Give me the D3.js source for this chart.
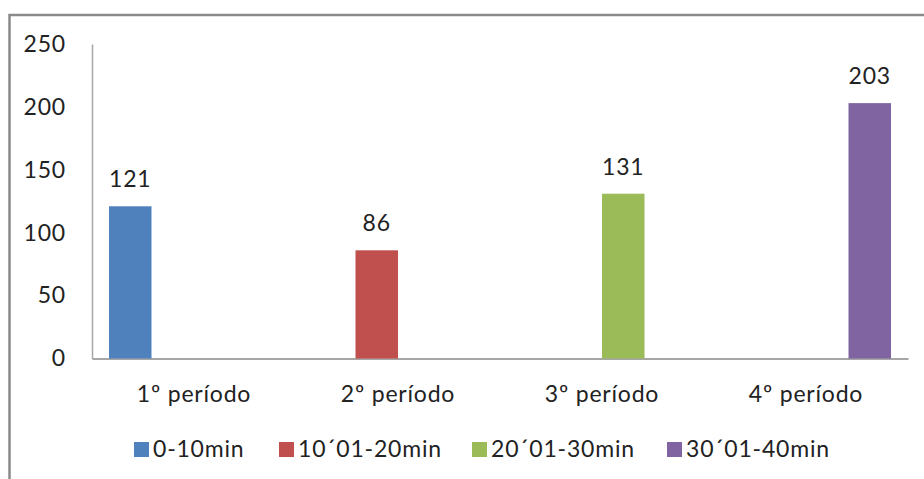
<!DOCTYPE html>
<html>
<head>
<meta charset="utf-8">
<script src="https://cdn.jsdelivr.net/npm/d3@7"></script>
<style>
  html, body { margin: 0; padding: 0; background: #fff; }
  svg { display: block; }
  text { font-family: Lato, "Open Sans", sans-serif; fill: #222; letter-spacing: 0.8px; }
</style>
</head>
<body>
<svg id="chart" width="924" height="479"></svg>
<script>
// Periods on the x axis
const categories = ["1º período", "2º período", "3º período", "4º período"];
// One series per time slice; each only has a value in its own period
const seriesNames = ["0-10min", "10´01-20min", "20´01-30min", "30´01-40min"];
const seriesValues = [
  [121, null, null, null],
  [null, 86, null, null],
  [null, null, 131, null],
  [null, null, null, 203]
];
const seriesColors = ["#4F81BD", "#C0504D", "#9BBB59", "#8064A2"];
const yTicks = [0, 50, 100, 150, 200, 250];

const svg = d3.select("#chart");
const W = 924, H = 479;
const fontSize = 23;

// Chart area frame (runs off the right and bottom edges)
svg.append("rect")
  .attr("x", 9.5).attr("y", 15)
  .attr("width", W + 20).attr("height", H + 20)
  .attr("fill", "#fff")
  .attr("stroke", "#8a8a8a")
  .attr("stroke-width", 2.5);

const plot = { left: 92, right: 908, top: 44, bottom: 358.5 };

const x = d3.scaleBand()
  .domain(categories)
  .range([plot.left, plot.right])
  .padding(0);

const xs = d3.scaleBand()
  .domain(d3.range(seriesNames.length))
  .range([0, x.bandwidth()])
  .paddingInner(0)
  .paddingOuter(0.4);

const y = d3.scaleLinear()
  .domain([0, 250])
  .range([plot.bottom, plot.top]);

// Y axis: line plus tick labels, no tick marks
const yAxis = d3.axisLeft(y).tickValues(yTicks).tickSize(0).tickPadding(26);
const gy = svg.append("g")
  .attr("transform", `translate(${plot.left},0)`)
  .call(yAxis);
gy.select(".domain").attr("stroke", "#a6a6a6").attr("stroke-width", 1.5);
gy.selectAll("text")
  .style("font-family", "Lato, sans-serif")
  .style("font-size", fontSize + "px")
  .attr("fill", "#222");

// X axis: baseline plus category labels
const xAxis = d3.axisBottom(x).tickSize(0).tickPadding(27);
const gx = svg.append("g")
  .attr("transform", `translate(0,${plot.bottom})`)
  .call(xAxis);
gx.select(".domain").attr("stroke", "#a6a6a6").attr("stroke-width", 2);
gx.selectAll("text")
  .style("font-family", "Lato, sans-serif")
  .style("font-size", fontSize + "px")
  .attr("fill", "#222");

// Bars
const barData = [];
seriesValues.forEach((vals, si) => {
  vals.forEach((v, ci) => {
    if (v != null) barData.push({ si, ci, v });
  });
});

const bars = svg.append("g");
bars.selectAll("rect")
  .data(barData)
  .join("rect")
  .attr("x", d => x(categories[d.ci]) + xs(d.si))
  .attr("y", d => y(d.v))
  .attr("width", xs.bandwidth())
  .attr("height", d => y(0) - y(d.v))
  .attr("fill", d => seriesColors[d.si]);

// Value labels above the bars
bars.selectAll("text")
  .data(barData)
  .join("text")
  .attr("x", d => x(categories[d.ci]) + xs(d.si) + xs.bandwidth() / 2)
  .attr("y", d => y(d.v) - 19)
  .attr("text-anchor", "middle")
  .style("font-size", fontSize + "px")
  .text(d => d.v);

// Legend
const legendX = [134, 279, 472, 667];
const legend = svg.append("g");
const items = legend.selectAll("g")
  .data(seriesNames)
  .join("g")
  .attr("transform", (d, i) => `translate(${legendX[i]},442)`);
items.append("rect")
  .attr("width", 15).attr("height", 15)
  .attr("fill", (d, i) => seriesColors[i]);
items.append("text")
  .attr("x", 19).attr("y", 15)
  .style("font-size", fontSize + "px")
  .text(d => d);
</script>
</body>
</html>
